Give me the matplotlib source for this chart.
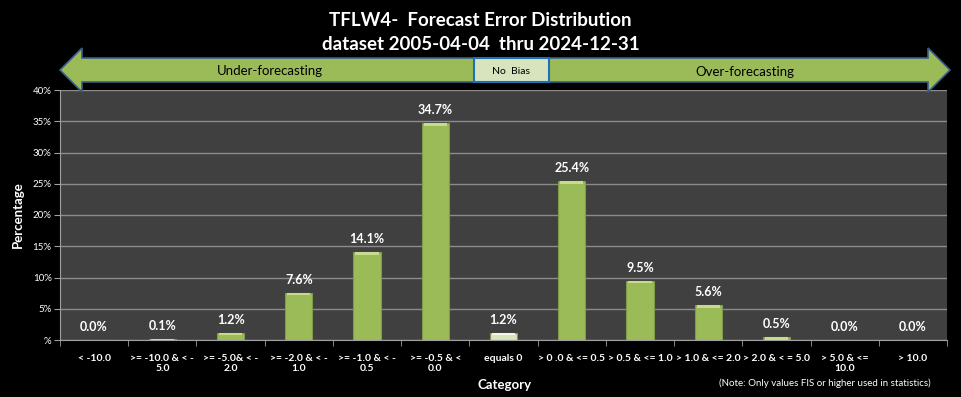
import numpy as np
import matplotlib
matplotlib.use('Agg')
from matplotlib import pyplot as plt
from matplotlib.patches import FancyArrow, Rectangle

plt.rcParams['font.family'] = ['Lato', 'DejaVu Sans']

categories = ['< -10.0', '>= -10.0 & < -\n5.0', '>= -5.0& < -\n2.0', '>= -2.0 & < -\n1.0',
              '>= -1.0 & < -\n0.5', '>= -0.5 & <\n0.0', 'equals 0', '> 0 .0 & <= 0.5',
              '> 0.5 & <= 1.0', '> 1.0 & <= 2.0', '> 2.0 & < = 5.0', '> 5.0 & <=\n10.0', '> 10.0']
values = [0.0, 0.1, 1.2, 7.6, 14.1, 34.7, 1.2, 25.4, 9.5, 5.6, 0.5, 0.0, 0.0]
labels = ['0.0%', '0.1%', '1.2%', '7.6%', '14.1%', '34.7%', '1.2%', '25.4%', '9.5%', '5.6%', '0.5%', '0.0%', '0.0%']
yticks = [0, 5, 10, 15, 20, 25, 30, 35, 40]
yticklabels = ['%', '5%', '10%', '15%', '20%', '25%', '30%', '35%', '40%']

green = '#9bbb59'
light = '#d7e4bd'

fig = plt.figure(figsize=(9.61, 3.97), dpi=100)
fig.patch.set_facecolor('black')
ax = fig.add_axes([60 / 961, 57 / 397, 887 / 961, 250 / 397])
ax.set_facecolor('#404040')

x = np.arange(len(values))
cols = [light if c == 'equals 0' else green for c in categories]
ax.bar(x, values, width=0.4, color=cols, edgecolor='#7f9a48', linewidth=0.8, zorder=3)
# light bevel on the bar tops
tops = [min(v, 0.45) for v in values]
top_cols = ['#f2f6ea' if c == 'equals 0' else '#c6dc8c' for c in categories]
ax.bar(x, tops, bottom=np.array(values) - np.array(tops), width=0.34, color=top_cols,
       linewidth=0, zorder=4)

for xi, v, lab in zip(x, values, labels):
    ax.annotate(lab, (xi, v), xytext=(0, 5), textcoords='offset points', ha='center',
                va='bottom', color='white', fontsize=9, fontweight='bold')

ax.set_xlim(-0.5, len(values) - 0.5)
ax.set_ylim(0, 40)
ax.set_yticks(yticks)
ax.set_yticklabels(yticklabels, color='white', fontsize=7)
ax.yaxis.grid(True, color='#8c8c8c', linewidth=1, zorder=0)
ax.set_axisbelow(True)
ax.set_xticks(x)
ax.set_xticklabels(categories, color='white', fontsize=7.5, fontweight='bold')
ax.tick_params(axis='x', which='major', length=0, pad=10)
ax.set_xticks(np.arange(-0.5, len(values), 1.0), minor=True)
ax.tick_params(axis='x', which='minor', length=4, color='#a0a0a0')
ax.tick_params(axis='y', length=4, color='#a0a0a0', pad=2)
for s in ['top', 'right']:
    ax.spines[s].set_visible(False)
for s in ['left', 'bottom']:
    ax.spines[s].set_color('#a0a0a0')

ax.set_ylabel('Percentage', color='white', fontsize=9.5, fontweight='bold', labelpad=6)
fig.text(505 / 961, 1 - 385 / 397, 'Category', color='white', fontsize=9.5,
         fontweight='bold', ha='center', va='center')
fig.text(825 / 961, 1 - 383 / 397, '(Note: Only values FIS or higher used in statistics)',
         color='white', fontsize=7, ha='center', va='center')

fig.text(0.5, 1 - 21 / 397, 'TFLW4-  Forecast Error Distribution', color='white',
         fontsize=13.5, fontweight='bold', ha='center', va='center')
fig.text(0.5, 1 - 45 / 397, 'dataset 2005-04-04  thru 2024-12-31', color='white',
         fontsize=13.5, fontweight='bold', ha='center', va='center')

# banner arrows, in figure pixel coordinates
W, H = 961, 397
ov = fig.add_axes([0, 0, 1, 1], zorder=5)
ov.set_xlim(0, W)
ov.set_ylim(H, 0)
ov.axis('off')
ov.patch.set_alpha(0)
ov.add_patch(FancyArrow(474, 70, -414, 0, width=24, head_width=44, head_length=22,
                        length_includes_head=True, facecolor=green, edgecolor='#385d8a', lw=1.2))
ov.add_patch(FancyArrow(549, 70, 401, 0, width=24, head_width=44, head_length=22,
                        length_includes_head=True, facecolor=green, edgecolor='#385d8a', lw=1.2))
ov.add_patch(Rectangle((474, 58), 75, 24, facecolor=light, edgecolor='#1f6fb4', lw=1.5))
ov.text(270, 71, 'Under-forecasting', fontsize=9.5, ha='center', va='center', color='black')
ov.text(511, 71, 'No  Bias', fontsize=7.5, ha='center', va='center', color='black')
ov.text(745, 72, 'Over-forecasting', fontsize=9.5, ha='center', va='center', color='black')

fig.savefig('out.png', dpi=100, facecolor='black')
